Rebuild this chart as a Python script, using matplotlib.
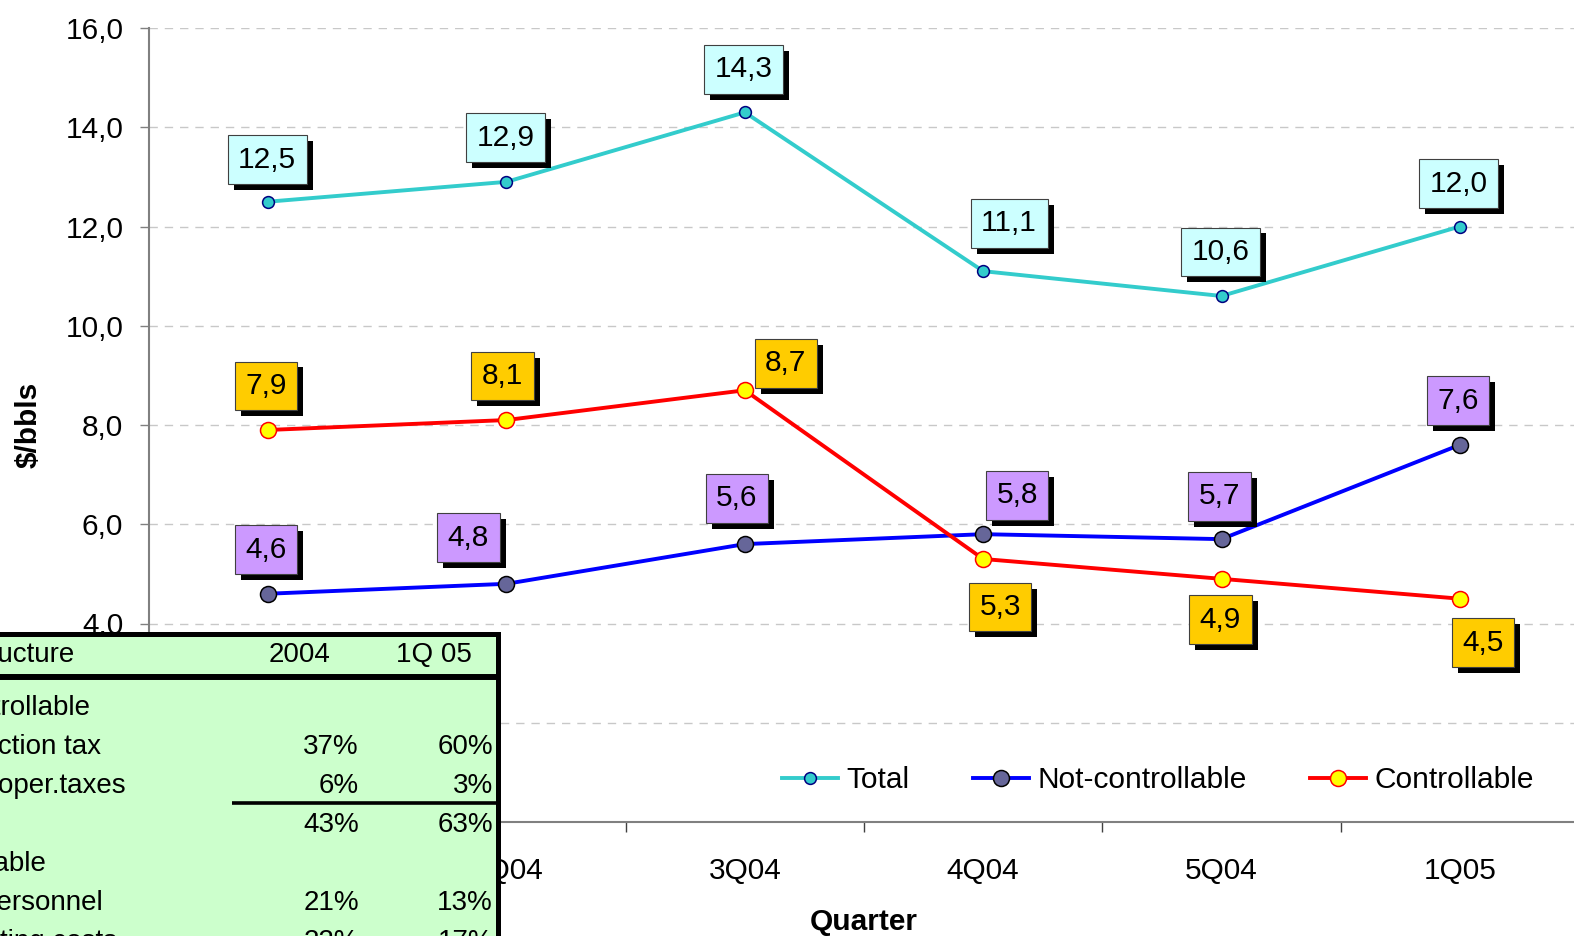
import matplotlib
matplotlib.use('Agg')
import matplotlib.pyplot as plt
import matplotlib.patheffects as pe
from matplotlib.ticker import FuncFormatter, FixedLocator
from matplotlib.lines import Line2D
from matplotlib.patches import Rectangle

plt.rcParams['font.family'] = ['Liberation Sans', 'DejaVu Sans']

# ---- data ----
quarters = ["1Q04", "2Q04", "3Q04", "4Q04", "5Q04", "1Q05"]
total = [12.5, 12.9, 14.3, 11.1, 10.6, 12.0]
not_ctrl = [4.6, 4.8, 5.6, 5.8, 5.7, 7.6]
ctrl = [7.9, 8.1, 8.7, 5.3, 4.9, 4.5]
yticks = [0, 2, 4, 6, 8, 10, 12, 14, 16]

table_header = ["Cost structure", "2004", "1Q 05"]
table_labels = ["Not-controllable", "Production tax", "Other oper.taxes", "",
                "Controllable", "Personnel", "Operating costs"]
table_2004 = ["", "37%", "6%", "43%", "", "21%", "22%"]
table_1q05 = ["", "60%", "3%", "63%", "", "13%", "17%"]

# ---- label offsets (pixels) ----
total_off = [(-1, 42), (-1, 44), (-1, 43), (26, 48), (-1, 44), (-1, 43)]
ctrl_off = [(-2, 44), (-4, 44), (41, 27), (17, -48), (-1, -41), (23, -44)]
nc_off = [(-2, 44), (-38, 46), (-8, 46), (34, 39), (-2, 43), (-2, 44)]

W, H = 1574, 936
fig = plt.figure(figsize=(W / 100, H / 100), dpi=100)
ax = fig.add_axes([149 / W, 1 - 822 / H, 1430 / W, 794 / H])

x = list(range(len(quarters)))
FS = 21.5
TFS = 20

ax.plot(x, total, color='#33CCCC', lw=2.8, marker='o', ms=8.5, mfc='#33CCCC',
        mec='#000080', mew=1.1, zorder=3, label='Total')
ax.plot(x, not_ctrl, color='#0000FF', lw=2.8, marker='o', ms=11.5, mfc='#666699',
        mec='black', mew=1.1, zorder=3, label='Not-controllable')
ax.plot(x, ctrl, color='#FF0000', lw=2.8, marker='o', ms=11.5, mfc='#FFFF00',
        mec='#FF0000', mew=1.1, zorder=3, label='Controllable')


def fmt(v):
    return f"{v:.1f}".replace('.', ',')


shadow = [pe.withSimplePatchShadow(offset=(4.3, -4.3), shadow_rgbFace='black', alpha=1.0)]


def label(series, offs, color):
    for i, (v, (dx, dy)) in enumerate(zip(series, offs)):
        t = ax.annotate(fmt(v), xy=(i, v), xytext=(dx, dy), textcoords='offset pixels',
                        ha='center', va='center', fontsize=FS, color='black', zorder=6,
                        bbox=dict(boxstyle='square,pad=0.35', fc=color, ec='#404040', lw=0.8))
        t.get_bbox_patch().set_path_effects(shadow)


label(total, total_off, '#CCFFFF')
label(ctrl, ctrl_off, '#FFCC00')
label(not_ctrl, nc_off, '#CC99FF')

ax.set_xlim(-0.5, len(quarters) - 0.5)
ax.set_ylim(0, 16)
ax.yaxis.set_major_locator(FixedLocator(yticks))
ax.yaxis.set_major_formatter(FuncFormatter(lambda v, p: fmt(v)))
ax.set_xticks(x)
ax.set_xticklabels(quarters)
ax.set_xticks([i + 0.5 for i in x[:-1]], minor=True)
ax.tick_params(axis='x', which='major', length=0, pad=25, labelsize=FS)
ax.tick_params(axis='x', which='minor', length=7.5, width=1, color='#404040', direction='out')
ax.tick_params(axis='y', length=6.5, width=1, color='#808080', pad=12, labelsize=FS)
ax.grid(axis='y', color='#C8C8C8', lw=1, ls=(0, (6, 5)))
ax.set_axisbelow(True)
for s in ('top', 'right'):
    ax.spines[s].set_visible(False)
for s in ('left', 'bottom'):
    ax.spines[s].set_color('#808080')
    ax.spines[s].set_linewidth(1.5)

ax.set_ylabel(r'\$/bbls', fontsize=FS, fontweight='bold')
ax.yaxis.set_label_coords((29 - 149) / 1430, 0.5)
ax.yaxis.label.set_va('center')
ax.set_xlabel('Quarter', fontsize=FS, fontweight='bold')
ax.xaxis.set_label_coords(0.5, (822 - 922) / 794)
ax.xaxis.label.set_va('center')

handles = [
    Line2D([], [], color='#33CCCC', lw=2.8, marker='o', ms=8.5, mfc='#33CCCC', mec='#000080', mew=1.1),
    Line2D([], [], color='#0000FF', lw=2.8, marker='o', ms=11.5, mfc='#666699', mec='black', mew=1.1),
    Line2D([], [], color='#FF0000', lw=2.8, marker='o', ms=11.5, mfc='#FFFF00', mec='#FF0000', mew=1.1),
]
ax.legend(handles, ['Total', 'Not-controllable', 'Controllable'], loc='center',
          bbox_to_anchor=(1158 / W, 1 - 780 / H), bbox_transform=fig.transFigure,
          ncol=3, frameon=False, fontsize=FS, handlelength=1.9, handletextpad=0.28,
          columnspacing=2.1, borderpad=0, borderaxespad=0)

# ---- table overlay ----
ov = fig.add_axes([0, 0, 1, 1], zorder=10)
ov.set_xlim(0, W)
ov.set_ylim(H, 0)
ov.axis('off')
ov.add_patch(Rectangle((-30, 634), 528, 400, fc='#CCFFCC', ec='black', lw=3.6))
ov.plot([-30, 498], [677, 677], color='black', lw=4.3, solid_capstyle='butt')
ov.plot([232, 498], [803, 803], color='black', lw=2.6, solid_capstyle='butt')

ov.text(-98, 662, table_header[0], fontsize=TFS, ha='left', va='baseline')
ov.text(300, 662, table_header[1], fontsize=TFS, ha='center', va='baseline')
ov.text(434, 662, table_header[2], fontsize=TFS, ha='center', va='baseline')

row_y = [705, 744, 783, 822, 861, 900, 939]
row_x = [-103, -76, -79, 0, -101, -21, -77]
for lab, a, b, yy, xx in zip(table_labels, table_2004, table_1q05, row_y, row_x):
    if lab:
        ov.text(xx, yy + 10, lab, fontsize=TFS, ha='left', va='baseline')
    if a:
        ov.text(359, yy + 10, a, fontsize=TFS, ha='right', va='baseline')
    if b:
        ov.text(493, yy + 10, b, fontsize=TFS, ha='right', va='baseline')

fig.savefig('out.png', dpi=100)
